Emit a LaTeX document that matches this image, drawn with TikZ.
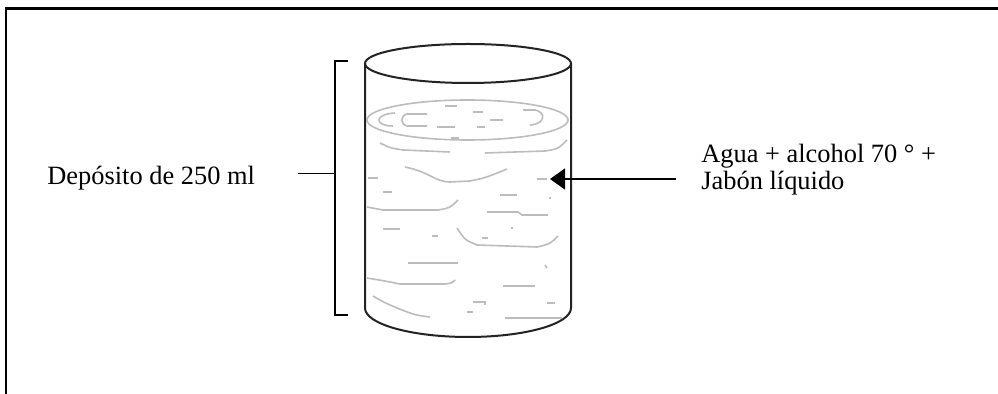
\documentclass[tikz,border=0pt]{standalone}
\usepackage{fontspec}
\setmainfont{Liberation Serif}
\usepackage{tikz}
\usetikzlibrary{arrows.meta}
\definecolor{liquid}{RGB}{188,188,188}
\definecolor{glass}{RGB}{35,35,35}

\begin{document}
\begin{tikzpicture}[x=0.5pt,y=-0.5pt,
        lbl/.style={font=\fontsize{13.2}{13.5}\selectfont, inner sep=0pt},
        glassline/.style={draw=glass, line width=1pt},
        wave/.style={draw=liquid, line width=0.8pt},
        thin/.style={line width=0.6pt}]
            \useasboundingbox (0,0) rectangle (998,394);
            % open frame
            \draw[line width=1.3pt] (6,394) -- (6,8.5) -- (998,8.5);
            % glass
            \draw[glassline] (468,63.5) ellipse [x radius=103, y radius=19.5];
            \draw[glassline] (365,63.5) -- (365,308) arc[start angle=180, end angle=0, x radius=103, y radius=29] -- (571,63.5);
            % liquid surface
            \draw[wave] (467.5,120) ellipse [x radius=100.5, y radius=20];
            \draw[wave] (395,113) .. controls (374,114) and (374,126) .. (393,126);
            \draw[wave] (427,114) -- (407,114) .. controls (400,116) and (400,124) .. (407,126) -- (427,126);
            \draw[wave] (523,110) -- (535,110) .. controls (546,112) and (546,124) .. (530,125);
            \draw[wave] (445,106) -- (457,106);
            \draw[wave] (473,112) -- (483,112);
            \draw[wave] (490,120) -- (503,120);
            \draw[wave] (437,127) -- (455,127);
            \draw[wave] (477,127) -- (485,127);
            \draw[wave, line width=1.3pt] (451,138) -- (459,138);
            % ripples
            \draw[wave] (380,143) .. controls (390,148) .. (403,150) -- (450,152);
            \draw[wave] (485,153) -- (545,151) .. controls (558,149) .. (567,140);
            \draw[wave] (405,167) .. controls (430,172) and (435,182) .. (450,182) -- (470,181) .. controls (485,178) .. (507,169);
            \draw[wave] (368,178) -- (378,178);
            \draw[wave] (537,179) -- (547,179);
            \draw[wave] (383,192) -- (392,192);
            \draw[wave] (500,195) -- (517,195);
            \draw[wave] (549,198) -- (551,198);
            \draw[wave] (367,207) .. controls (375,209) .. (383,210) -- (438,210) .. controls (450,208) .. (458,200);
            \draw[wave] (487,212) -- (518,212) -- (522,215) -- (548,215);
            \draw[wave] (383,229) -- (400,229);
            \draw[wave] (432,236) -- (438,236);
            \draw[wave] (511,228) -- (513,228);
            \draw[wave] (457,228) .. controls (465,240) .. (477,245) -- (537,247) .. controls (550,244) .. (558,236);
            \draw[wave] (482,238) -- (488,238);
            \draw[wave] (408,263) -- (458,263);
            \draw[wave] (545,265) -- (547,268);
            \draw[wave] (367,278) .. controls (385,281) .. (400,284) -- (445,284) .. controls (452,283) .. (455,280);
            \draw[wave] (503,286) -- (535,286);
            \draw[wave] (373,296) .. controls (385,303) .. (402,310) .. controls (415,315) .. (430,317);
            \draw[wave] (473,302) -- (485,302) -- (485,305);
            \draw[wave] (467,312) -- (473,312);
            \draw[wave] (547,303) -- (555,303);
            \draw[wave] (505,318) -- (562,318);
            % bracket and labels
            \draw[thin] (348,61) -- (335,61) -- (335,315) -- (348,315);
            \node[lbl, anchor=base west] (deposito) at (47,184.5) {Depósito de 250 ml};
            \coordinate (tickstart) at (298,173.3);
            \coordinate (bracketmid) at (335,173.3);
            \draw[thin] (tickstart) -- (bracketmid);
            \node[lbl, anchor=base west, align=left] (mezcla) at (701,190) {Agua + alcohol 70 ° +\\Jabón líquido};
            \coordinate (arrowstart) at (676,179);
            \coordinate (arrowtip) at (550,179);
            \draw[thin, -{Triangle[length=7.5pt,width=10.5pt]}] (arrowstart) -- (arrowtip);
        \end{tikzpicture}
\end{document}
